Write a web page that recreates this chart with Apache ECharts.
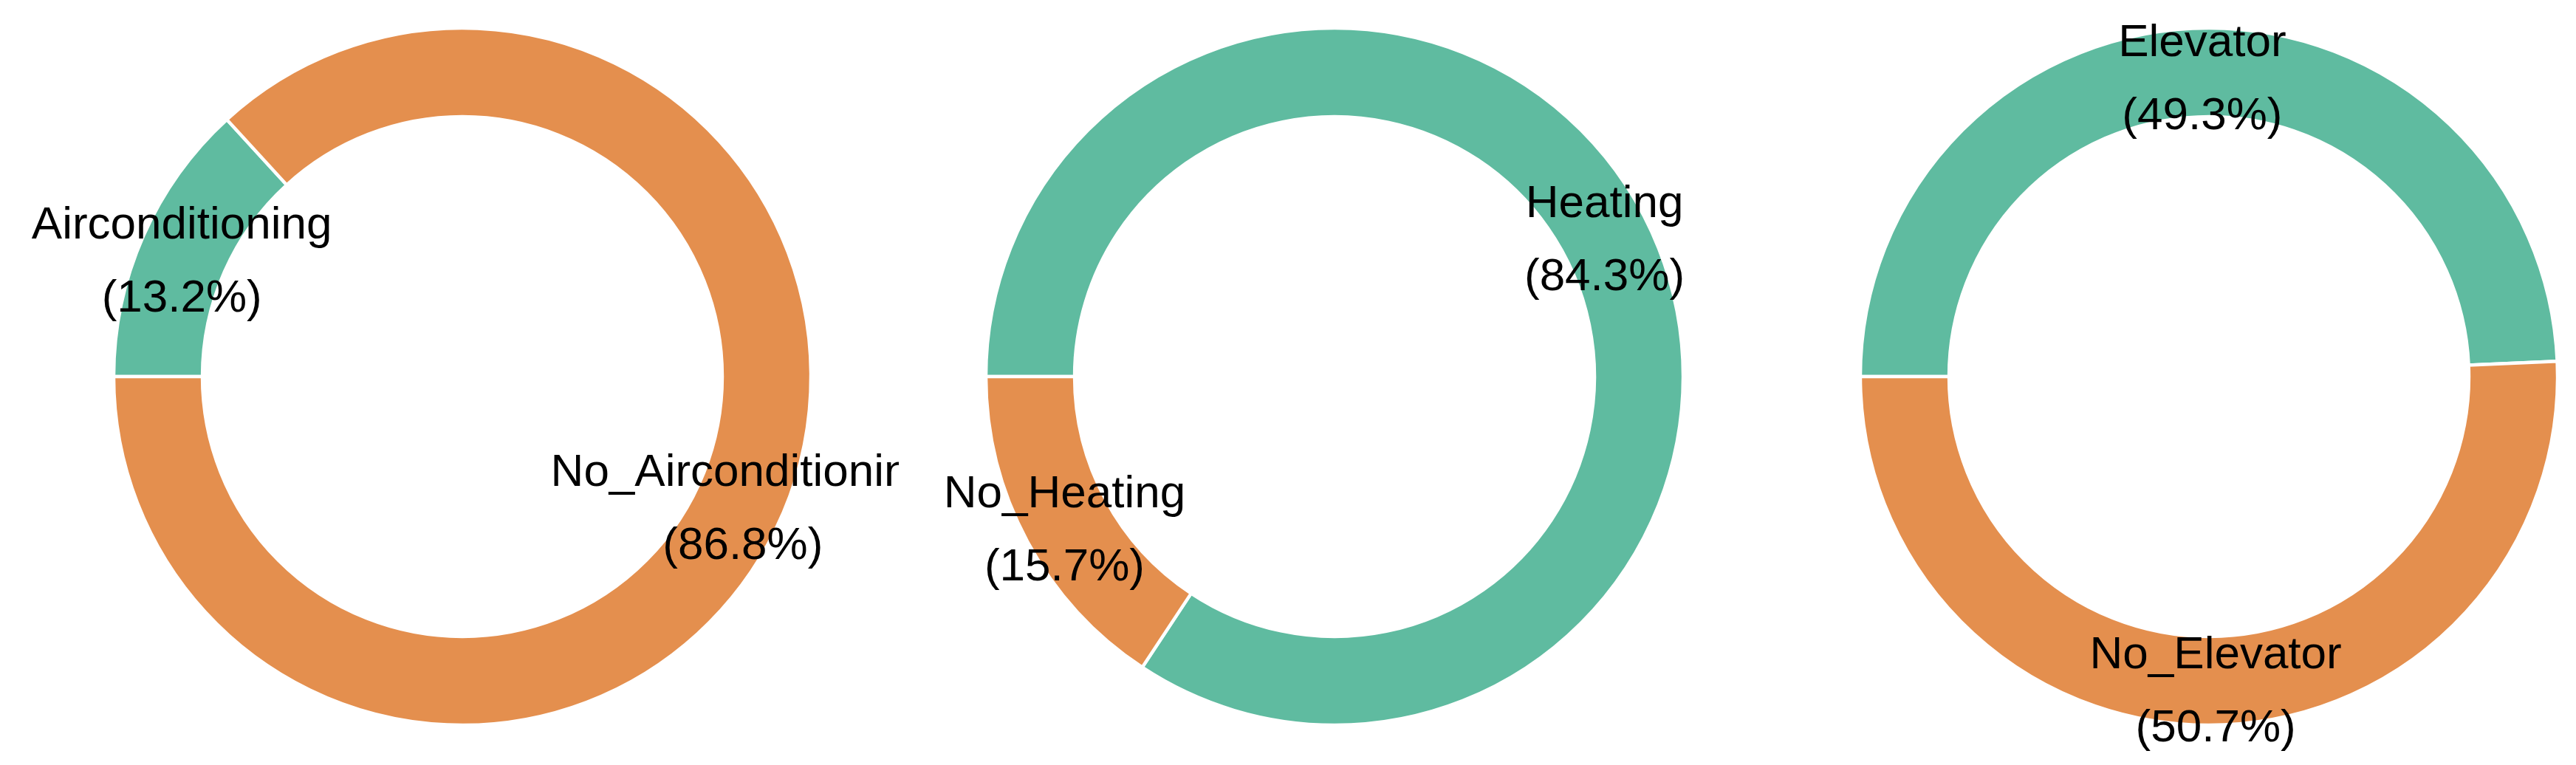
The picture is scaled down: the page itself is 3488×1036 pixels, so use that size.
<!DOCTYPE html>
<html>
<head>
<meta charset="utf-8">
<script src="https://cdn.jsdelivr.net/npm/echarts@6/dist/echarts.min.js"></script>
<style>
  html, body { margin: 0; padding: 0; width: 3488px; height: 1036px; overflow: hidden; background: #fff; position: relative; }
  .panel { position: absolute; top: 0; height: 1036px; width: 1182px; overflow: hidden; }
</style>
</head>
<body>
<div id="p0" class="panel" style="left:35px"></div>
<div id="p1" class="panel" style="left:1216px"></div>
<div id="p2" class="panel" style="left:2400px"></div>
<script>
// Data (percent shares) for the three donuts
const airCategories = ['Airconditioning', 'No_Airconditioning'];
const airValues = [13.2, 86.8];
const heatCategories = ['Heating', 'No_Heating'];
const heatValues = [84.3, 15.7];
const elevCategories = ['Elevator', 'No_Elevator'];
const elevValues = [49.3, 50.7];

const TEAL = '#5FBBA0';
const ORANGE = '#E48F4E';

function makeDonut(el, cats, vals, colors) {
  const chart = echarts.init(document.getElementById(el), null, { renderer: 'canvas' });
  chart.setOption({
    animation: false,
    series: [{
      type: 'pie',
      center: ['50%', 510],
      radius: [352, 472],
      startAngle: 180,
      clockwise: true,
      avoidLabelOverlap: false,
      silent: true,
      itemStyle: { borderColor: '#ffffff', borderWidth: 4.4 },
      label: {
        show: true,
        position: 'inside',
        formatter: function (p) { return p.name + '\n(' + p.value.toFixed(1) + '%)'; },
        fontFamily: 'Liberation Sans, Arial, sans-serif',
        fontSize: 62,
        lineHeight: 99,
        color: '#000000',
        offset: [0, 13]
      },
      labelLine: { show: false },
      emphasis: { disabled: true },
      data: cats.map(function (c, i) { return { name: c, value: vals[i], itemStyle: { color: colors[i] } }; })
    }]
  });
}

makeDonut('p0', airCategories, airValues, [TEAL, ORANGE]);
makeDonut('p1', heatCategories, heatValues, [TEAL, ORANGE]);
makeDonut('p2', elevCategories, elevValues, [TEAL, ORANGE]);
</script>
</body>
</html>
